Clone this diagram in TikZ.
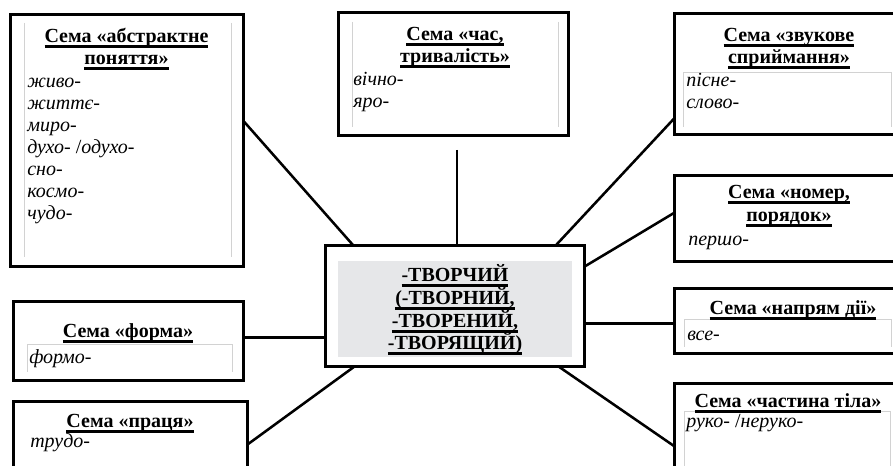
\documentclass[tikz,border=0pt]{standalone}
\usepackage{fontspec}
\setmainfont{Liberation Serif}[ItalicFont={Liberation Serif Italic},BoldFont={Liberation Serif Bold}]
\usetikzlibrary{fit}
\definecolor{cellgray}{RGB}{210,210,210}
\definecolor{rootgray}{RGB}{230,231,233}
\newcommand\semaul[1]{\leavevmode\setbox0\hbox{#1}\rlap{\rule[-3.4pt]{\wd0}{1.6pt}}\box0}

\begin{document}
\begin{tikzpicture}[x=0.75pt,y=-0.75pt,
        semabox/.style={draw,line width=2.25pt,inner sep=0pt,outer sep=0pt},
        head/.style={anchor=base,inner sep=0pt,font=\bfseries\fontsize{15pt}{16.5pt}\selectfont},
        item/.style={anchor=base west,inner sep=0pt,font=\itshape\fontsize{15pt}{16.5pt}\selectfont},
        cell/.style={draw=cellgray,line width=0.75pt},
        link/.style={line width=1.9pt}]
            \useasboundingbox (0,0) rectangle (893,466);
            \clip (0,0) rectangle (893,466);
            % boxes
            \fill[rootgray] (338,261) rectangle (572,357);
            \node[semabox,fit={(325,246) (584,367)}] (root) {};
            \node[semabox,fit={(10,15) (243,267)}] (abstr) {};
            \node[semabox,fit={(338,13) (568,136)}] (chas) {};
            \node[semabox,fit={(674,14) (904,135)}] (zvuk) {};
            \node[semabox,fit={(674,176) (904,262)}] (nomer) {};
            \node[semabox,fit={(674,289) (904,354)}] (napr) {};
            \node[semabox,fit={(674,384) (904,500)}] (chast) {};
            \node[semabox,fit={(13,302) (243,381)}] (forma) {};
            \node[semabox,fit={(13,402) (247,500)}] (pracia) {};
            % table cells inside the boxes
            \draw[cell] (24,23) -- (24,257) (231,23) -- (231,257);
            \draw[cell] (352,22) -- (352,127) (558,22) -- (558,127);
            \draw[cell] (683,127) -- (683,73) -- (891,73) -- (891,127);
            \draw[cell] (684,347) -- (684,320) -- (891,320) -- (891,347);
            \draw[cell] (684,470) -- (684,412) -- (890,412) -- (890,470);
            \draw[cell] (27,372) -- (27,345) -- (232,345) -- (232,372);
            % texts
            \node[head] (root-1) at (455,282) {\semaul{-ТВОРЧИЙ}};
            \node[head] (root-2) at (455,305) {\semaul{(-ТВОРНИЙ,}};
            \node[head] (root-3) at (455,328) {\semaul{-ТВОРЕНИЙ,}};
            \node[head] (root-4) at (455,350) {\semaul{-ТВОРЯЩИЙ)}};
            \node[head] (abstr-h1) at (126.5,43) {\semaul{Сема «абстрактне}};
            \node[head] (abstr-h2) at (126.5,65) {\semaul{поняття»}};
            \foreach \w [count=\i] in {живо-,життє-,миро-,{духо- \textup{/}одухо-},сно-,космо-,чудо-}
                \node[item] (abstr-\i) at (27,66+22*\i) {\w};
            \node[head] (chas-h1) at (455,41) {\semaul{Сема «час,}};
            \node[head] (chas-h2) at (455,63) {\semaul{тривалість»}};
            \node[item] (chas-1) at (353,86) {вічно-};
            \node[item] (chas-2) at (353,108) {яро-};
            \node[head] (zvuk-h1) at (789,42) {\semaul{Сема «звукове}};
            \node[head] (zvuk-h2) at (789,64) {\semaul{сприймання»}};
            \node[item] (zvuk-1) at (686,87) {пісне-};
            \node[item] (zvuk-2) at (686,109) {слово-};
            \node[head] (nomer-h1) at (789,199) {\semaul{Сема «номер,}};
            \node[head] (nomer-h2) at (789,222) {\semaul{порядок»}};
            \node[item] (nomer-1) at (688,246) {першо-};
            \node[head] (napr-h) at (793,315) {\semaul{Сема «напрям дії»}};
            \node[item] (napr-1) at (687,341) {все-};
            \node[head] (chast-h) at (788,408) {\semaul{Сема «частина тіла»}};
            \node[item] (chast-1) at (686,428) {руко- \textup{/}неруко-};
            \node[head] (forma-h) at (128,338) {\semaul{Сема «форма»}};
            \node[item] (forma-1) at (29,364) {формо-};
            \node[head] (pracia-h) at (130,428) {\semaul{Сема «праця»}};
            \node[item] (pracia-1) at (30,448) {трудо-};
            % links
            \coordinate (chas-stem) at (457,150);
            \draw[link] (abstr.10) -- (root.149);
            \draw[link] (chas-stem) -- (chas-stem |- root.north);
            \draw[link] (zvuk.201) -- (root.31);
            \draw[link] (nomer.177) -- (root.17);
            \draw[link] (napr.181) -- (napr.181 -| root.east);
            \draw[link] (root.-30) -- (chast.182);
            \draw[link] (forma.2) -- (forma.2 -| root.west);
            \draw[link] (pracia.3) -- (root.211);
            %\draw[dashed] (0,0) rectangle (893,466);
        \end{tikzpicture}
\end{document}
